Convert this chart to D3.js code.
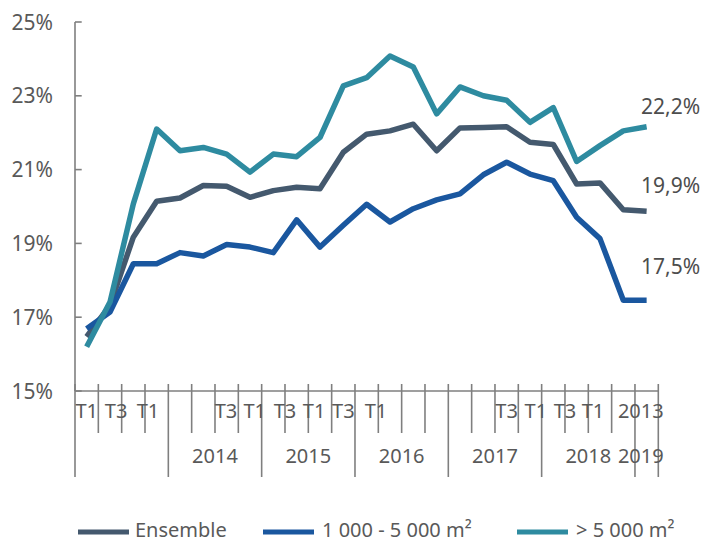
<!DOCTYPE html>
<html>
<head>
<meta charset="utf-8">
<script src="https://cdn.jsdelivr.net/npm/d3@7"></script>
<style>
  body { margin: 0; background: #fff; }
  text { font-family: "Noto Sans", sans-serif; fill: #595959; }
</style>
</head>
<body>
<script>
var width = 704;
var height = 542;

var margin = {
  top: 22,
  left: 75,
  right: 45.7,
  bottom: 151,
};

var quarters = [
  "T1 2013", "T2 2013", "T3 2013", "T4 2013",
  "T1 2014", "T2 2014", "T3 2014", "T4 2014",
  "T1 2015", "T2 2015", "T3 2015", "T4 2015",
  "T1 2016", "T2 2016", "T3 2016", "T4 2016",
  "T1 2017", "T2 2017", "T3 2017", "T4 2017",
  "T1 2018", "T2 2018", "T3 2018", "T4 2018",
  "T1 2019"
];

var ensemble = [16.47, 17.32, 19.17, 20.14, 20.23, 20.57, 20.55, 20.25, 20.43, 20.52, 20.48, 21.47, 21.96,
  22.05, 22.23, 21.51, 22.13, 22.14, 22.16, 21.74, 21.68, 20.61, 20.64, 19.91, 19.87];
var moyenne = [16.69, 17.14, 18.45, 18.45, 18.75, 18.66, 18.97, 18.90, 18.75, 19.64, 18.90, 19.49, 20.06,
  19.58, 19.94, 20.18, 20.34, 20.86, 21.20, 20.88, 20.70, 19.71, 19.13, 17.46, 17.46];
var grande = [16.20, 17.41, 20.07, 22.10, 21.51, 21.60, 21.42, 20.93, 21.42, 21.35, 21.87, 23.27, 23.49,
  24.08, 23.78, 22.51, 23.24, 23.00, 22.88, 22.28, 22.68, 21.22, 21.65, 22.05, 22.16];

var seriesNames = ["Ensemble", "1 000 - 5 000 m²", "> 5 000 m²"];
var endLabels = ["19,9%", "17,5%", "22,2%"];

var yTicks = [15, 17, 19, 21, 23, 25];

// labels as drawn on the original axis (positions in quarter index)
var row1Labels = ["T1", "T3", "T1", "T3", "T1", "T3", "T1", "T3", "T1", "T3", "T1", "T3", "T1", "2013"];
var row1Pos = [0, 1.26, 2.63, 5.97, 7.2, 8.5, 9.75, 11, 12.4, 18, 19.25, 20.5, 21.7, 23.75];
var yearLabels = ["2014", "2015", "2016", "2017", "2018", "2019"];
var yearPos = [5.5, 9.5, 13.5, 17.5, 21.5, 23.75];
var yearBreaks = [0, 4, 8, 12, 16, 20, 24, 25];

var colors = ["#44596e", "#1a579f", "#2e8ba0"];
var labelDy = [-26, -34, -20];

var series = [ensemble, moyenne, grande];

var svg = d3.select("body")
  .append("svg")
  .attr("width", width)
  .attr("height", height);

var xScale = d3.scaleBand()
  .domain(quarters)
  .range([margin.left, width - margin.right])
  .padding(0);

var xIdx = d3.scaleLinear()
  .domain([0, quarters.length])
  .range([margin.left, width - margin.right]);

var yScale = d3.scaleLinear()
  .domain([15, 25])
  .range([height - margin.bottom, margin.top]);

var axisColor = "#7f7f7f";
var axisY = height - margin.bottom;

// y axis
svg.append("line")
  .attr("x1", margin.left).attr("x2", margin.left)
  .attr("y1", yScale(25)).attr("y2", axisY)
  .attr("stroke", axisColor).attr("stroke-width", 1.6);

svg.selectAll(".ytick")
  .data(yTicks)
  .enter()
  .append("line")
    .attr("x1", margin.left)
    .attr("x2", margin.left + 6.7)
    .attr("y1", function(d) { return yScale(d); })
    .attr("y2", function(d) { return yScale(d); })
    .attr("stroke", axisColor)
    .attr("stroke-width", 1.6);

svg.selectAll(".ylabel")
  .data(yTicks)
  .enter()
  .append("text")
    .attr("x", 53)
    .attr("y", function(d) { return yScale(d); })
    .attr("dy", "0.36em")
    .attr("text-anchor", "end")
    .style("font-size", "21px")
    .text(function(d) { return d + "%"; });

// x axis
svg.append("line")
  .attr("x1", margin.left).attr("x2", width - margin.right)
  .attr("y1", axisY).attr("y2", axisY)
  .attr("stroke", axisColor).attr("stroke-width", 1.6);

var bounds = d3.range(quarters.length + 1);
svg.selectAll(".xtick")
  .data(bounds)
  .enter()
  .append("line")
    .attr("x1", function(d) { return xIdx(d); })
    .attr("x2", function(d) { return xIdx(d); })
    .attr("y1", axisY - 7)
    .attr("y2", function(d) { return yearBreaks.indexOf(d) >= 0 ? axisY + 86 : axisY + 42; })
    .attr("stroke", axisColor)
    .attr("stroke-width", 1.6);

svg.selectAll(".row1")
  .data(row1Labels)
  .enter()
  .append("text")
    .attr("x", function(d, i) { return xIdx(row1Pos[i] + 0.5); })
    .attr("y", axisY + 20)
    .attr("dy", "0.36em")
    .attr("text-anchor", "middle")
    .style("font-size", "20px")
    .text(function(d) { return d; });

svg.selectAll(".year")
  .data(yearLabels)
  .enter()
  .append("text")
    .attr("x", function(d, i) { return xIdx(yearPos[i] + 0.5); })
    .attr("y", axisY + 65)
    .attr("dy", "0.36em")
    .attr("text-anchor", "middle")
    .style("font-size", "20px")
    .text(function(d) { return d; });

// lines
var line = d3.line()
  .x(function(d, i) { return xScale(quarters[i]) + xScale.bandwidth() / 2; })
  .y(function(d) { return yScale(d); });

var drawOrder = [0, 1, 2];
drawOrder.forEach(function(s) {
  svg.append("path")
    .datum(series[s])
    .attr("d", line)
    .attr("fill", "none")
    .attr("stroke", colors[s])
    .attr("stroke-width", 5.5)
    .attr("stroke-linejoin", "round");
});

var last = quarters.length - 1;
series.forEach(function(s, k) {
  svg.append("text")
    .attr("x", xScale(quarters[last]) + xScale.bandwidth() / 2 + 24)
    .attr("y", yScale(s[last]) + labelDy[k])
    .attr("dy", "0.36em")
    .attr("text-anchor", "middle")
    .style("font-size", "21px")
    .style("fill", "#4d4d4d")
    .text(endLabels[k]);
});

// legend
var legendX = [78, 263, 517];
var legend = svg.selectAll(".legend")
  .data(seriesNames)
  .enter()
  .append("g")
    .attr("transform", function(d, i) { return "translate(" + legendX[i] + "," + 530 + ")"; });

legend.append("line")
  .attr("x1", 0).attr("x2", 51)
  .attr("y1", 2).attr("y2", 2)
  .attr("stroke", function(d, i) { return colors[i]; })
  .attr("stroke-width", 5);

legend.append("text")
  .attr("x", function(d, i) { return i == 0 ? 57 : 59; })
  .attr("dy", "0.36em")
  .style("font-size", "20px")
  .text(function(d) { return d; });
</script>
</body>
</html>
